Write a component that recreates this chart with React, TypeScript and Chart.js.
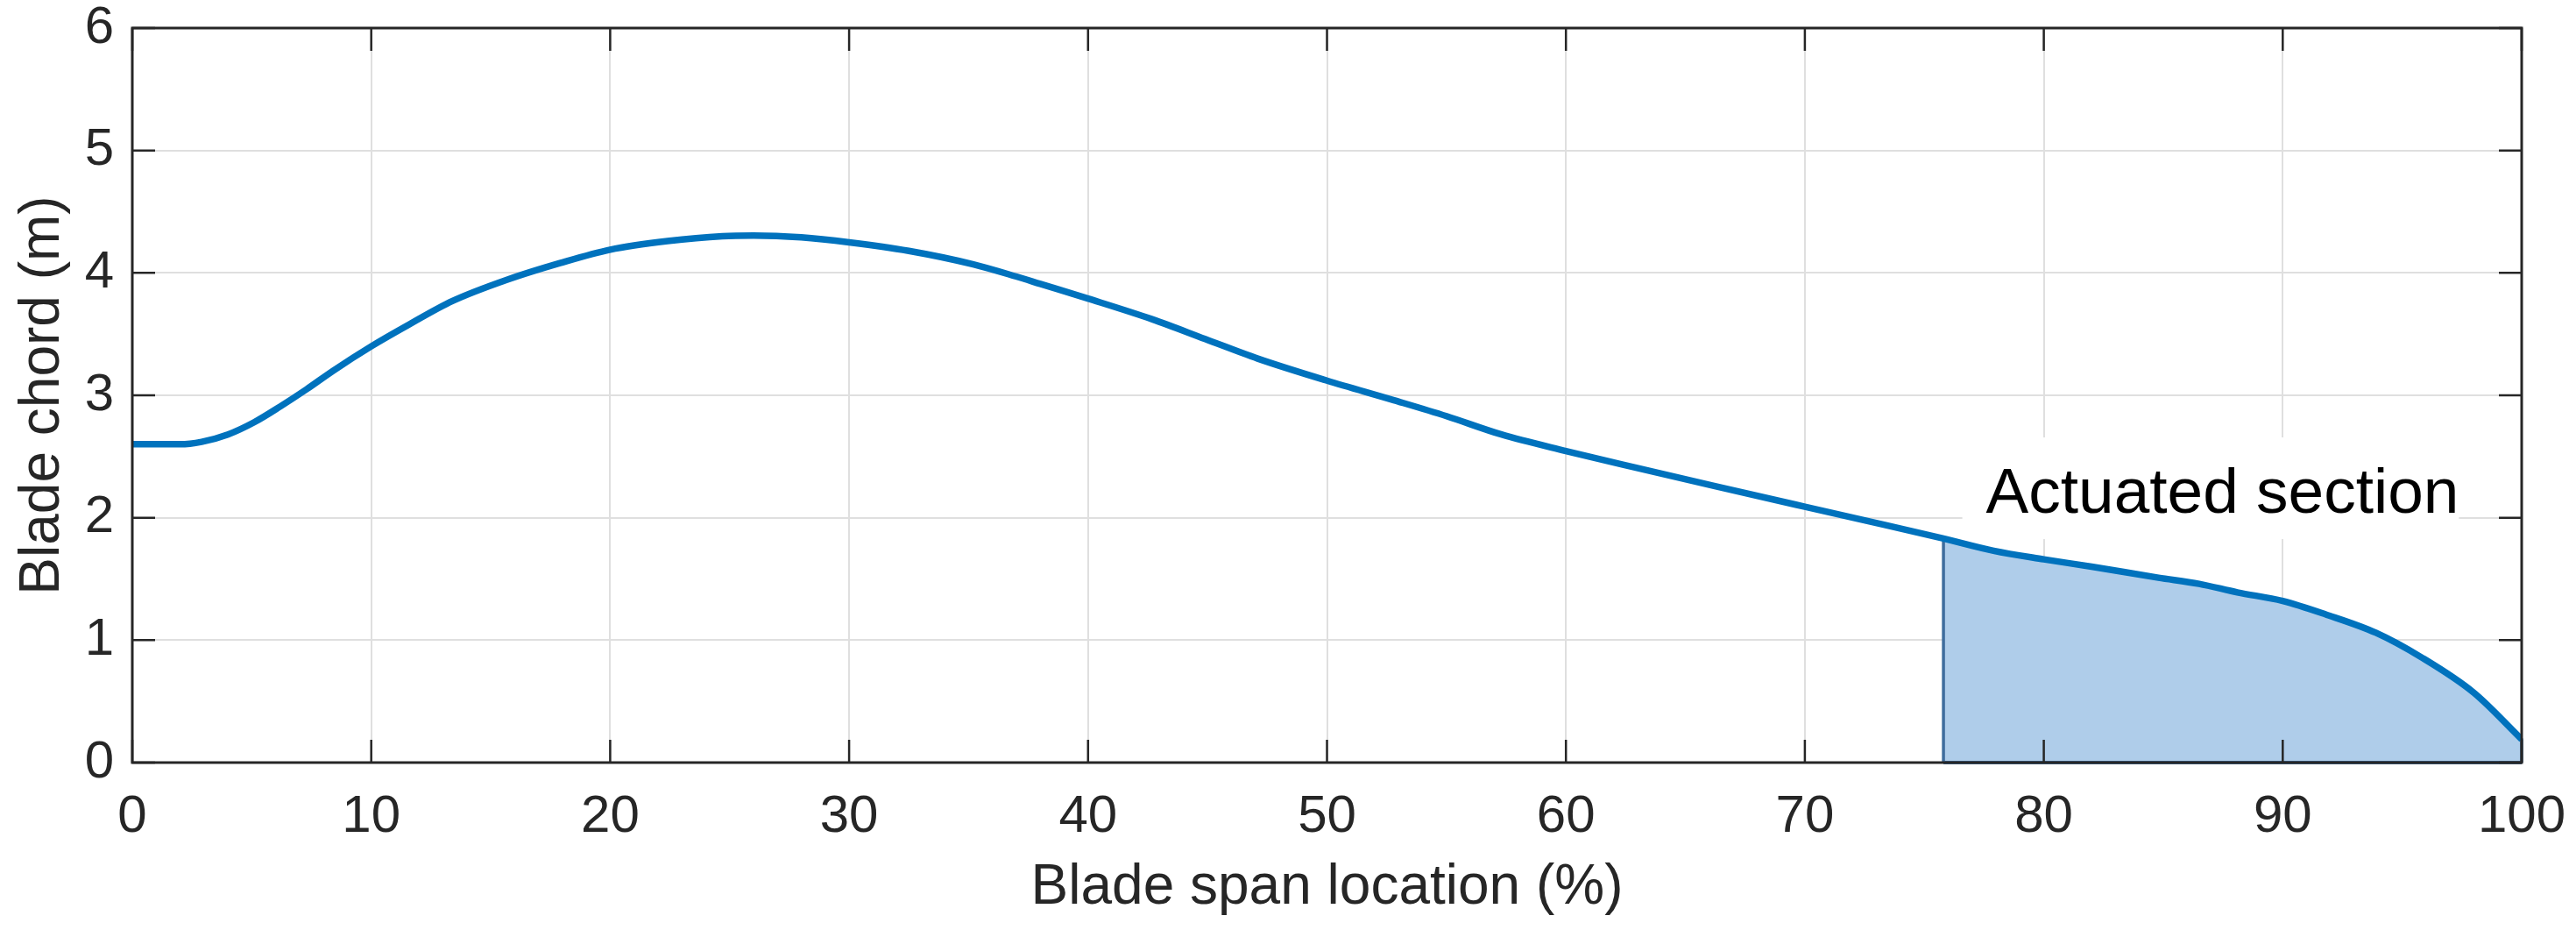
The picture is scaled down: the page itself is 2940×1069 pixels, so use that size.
import React, { useEffect, useRef } from "react";
import { Chart, registerables } from "chart.js";

Chart.register(...registerables);

// Blade span location (%) and chord (m)
const spanPct = [0, 2, 2.9, 4, 5.1, 6.2, 7.3, 8.4, 10, 11.6, 13.4, 15.7, 17.9, 20, 22.4, 24.7, 26, 28, 30, 32.5, 35.2, 37, 38, 40, 42.7, 44.9, 47.1, 50, 52.8, 55, 57.3, 60, 62.9, 66.2, 70, 72.7, 75.8, 77.9, 80, 82, 84.8, 86.5, 88.1, 90, 91.8, 93.9, 95.8, 98, 100];
const chordM = [2.6, 2.6, 2.62, 2.68, 2.78, 2.91, 3.05, 3.2, 3.4, 3.58, 3.77, 3.945, 4.08, 4.19, 4.26, 4.3, 4.305, 4.29, 4.25, 4.18, 4.07, 3.97, 3.91, 3.79, 3.62, 3.46, 3.3, 3.12, 2.96, 2.83, 2.68, 2.545, 2.41, 2.26, 2.09, 1.97, 1.83, 1.73, 1.66, 1.6, 1.51, 1.46, 1.39, 1.32, 1.21, 1.06, 0.86, 0.57, 0.19];

const actuatedStart = 75.8;
const actuatedEnd = 100;
const actuatedLabel = "Actuated section";
const labelAnchor = { x: 77.58, y: 2.04 };

const xTicks = [0, 10, 20, 30, 40, 50, 60, 70, 80, 90, 100];
const yTicks = [0, 1, 2, 3, 4, 5, 6];
const xTitle = "Blade span location (%)";
const yTitle = "Blade chord (m)";

const FONT = "'Liberation Sans', Arial, Helvetica, sans-serif";
const AXIS_COLOR = "#262626";
const LINE_COLOR = "#0072BD";
const FILL_COLOR = "rgb(175, 205, 234)";
const FILL_EDGE = "rgb(63, 109, 157)";

const W = 2940;
const H = 1069;

export default function App() {
  const ref = useRef<HTMLCanvasElement | null>(null);

  useEffect(() => {
    const canvas = ref.current;
    if (!canvas) return;

    const mainData = spanPct.map((x, i) => ({ x, y: chordM[i] }));
    const sub = spanPct
      .map((x, i) => ({ x, y: chordM[i] }))
      .filter((p) => p.x >= actuatedStart && p.x <= actuatedEnd);
    const fillData = [{ x: actuatedStart, y: 0 }, ...sub, { x: actuatedEnd, y: 0 }];
    const baseData = [
      { x: actuatedStart, y: 0 },
      { x: actuatedEnd, y: 0 },
    ];

    const zeroPad = (s: any) => {
      s.paddingTop = 0;
      s.paddingBottom = 0;
      s.paddingLeft = 0;
      s.paddingRight = 0;
    };

    const annotationPlugin = {
      id: "annot",
      beforeDatasetsDraw(chart: any) {
        const { ctx, scales } = chart;
        const px = scales.x.getPixelForValue(labelAnchor.x);
        const py = scales.y.getPixelForValue(labelAnchor.y);
        ctx.save();
        ctx.font = `73px ${FONT}`;
        const w = ctx.measureText(actuatedLabel).width;
        ctx.fillStyle = "#ffffff";
        ctx.fillRect(px - 27, py - 86, w + 27, 116);
        ctx.fillStyle = "#000000";
        ctx.textBaseline = "alphabetic";
        ctx.textAlign = "left";
        ctx.fillText(actuatedLabel, px, py);
        ctx.restore();
      },
      afterDatasetsDraw(chart: any) {
        const { ctx, chartArea, scales } = chart;
        const { left, right, top, bottom } = chartArea;
        const tl = 26;
        ctx.save();
        ctx.strokeStyle = AXIS_COLOR;
        ctx.lineWidth = 2.5;
        ctx.beginPath();
        xTicks.forEach((v) => {
          const p = scales.x.getPixelForValue(v);
          ctx.moveTo(p, bottom);
          ctx.lineTo(p, bottom - tl);
          ctx.moveTo(p, top);
          ctx.lineTo(p, top + tl);
        });
        yTicks.forEach((v) => {
          const p = scales.y.getPixelForValue(v);
          ctx.moveTo(left, p);
          ctx.lineTo(left + tl, p);
          ctx.moveTo(right, p);
          ctx.lineTo(right - tl, p);
        });
        ctx.stroke();
        ctx.lineWidth = 3;
        ctx.strokeRect(left, top, right - left, bottom - top);
        ctx.restore();
      },
    };

    const chart = new Chart(canvas, {
      type: "line",
      data: {
        datasets: [
          {
            data: mainData,
            borderColor: LINE_COLOR,
            borderWidth: 7.5,
            pointRadius: 0,
            fill: false,
            cubicInterpolationMode: "monotone",
            order: 0,
          } as any,
          {
            data: baseData,
            borderColor: FILL_EDGE,
            borderWidth: 4,
            pointRadius: 0,
            fill: false,
            tension: 0,
            order: 1,
            clip: false,
          } as any,
          {
            data: fillData,
            borderColor: FILL_EDGE,
            backgroundColor: FILL_COLOR,
            borderWidth: 3.5,
            pointRadius: 0,
            fill: "origin",
            tension: 0,
            order: 2,
            clip: false,
          } as any,
        ],
      },
      options: {
        responsive: false,
        animation: false,
        devicePixelRatio: 1,
        layout: { padding: { top: 32, right: 62, left: 0, bottom: 0 } },
        plugins: {
          legend: { display: false },
          tooltip: { enabled: false },
          filler: { propagate: false },
        },
        scales: {
          x: {
            type: "linear",
            min: 0,
            max: 100,
            afterBuildTicks: (s: any) => {
              s.ticks = xTicks.map((v) => ({ value: v }));
            },
            afterFit: (s: any) => {
              s.height = 199;
              zeroPad(s);
            },
            grid: { color: "#dfdfdf", lineWidth: 2, drawTicks: false },
            border: { display: false },
            ticks: {
              color: AXIS_COLOR,
              font: { family: FONT, size: 60 },
              padding: 26,
              maxRotation: 0,
              autoSkip: false,
            },
            title: {
              display: true,
              text: xTitle,
              color: AXIS_COLOR,
              font: { family: FONT, size: 64 },
              padding: { top: 0, bottom: 17 },
            },
          },
          y: {
            type: "linear",
            min: 0,
            max: 6,
            afterBuildTicks: (s: any) => {
              s.ticks = yTicks.map((v) => ({ value: v }));
            },
            afterFit: (s: any) => {
              s.width = 151;
              zeroPad(s);
            },
            grid: { color: "#dfdfdf", lineWidth: 2, drawTicks: false },
            border: { display: false },
            ticks: {
              color: AXIS_COLOR,
              font: { family: FONT, size: 60 },
              padding: 21,
            },
            title: {
              display: true,
              text: yTitle,
              color: AXIS_COLOR,
              font: { family: FONT, size: 64 },
              padding: { top: 11, bottom: 0 },
            },
          },
        },
      } as any,
      plugins: [annotationPlugin],
    });

    return () => chart.destroy();
  }, []);

  return (
    <div style={{ position: "fixed", left: 0, top: 0, width: W, height: H, background: "#fff" }}>
      <canvas ref={ref} width={W} height={H} style={{ width: W, height: H, display: "block" }} />
    </div>
  );
}
